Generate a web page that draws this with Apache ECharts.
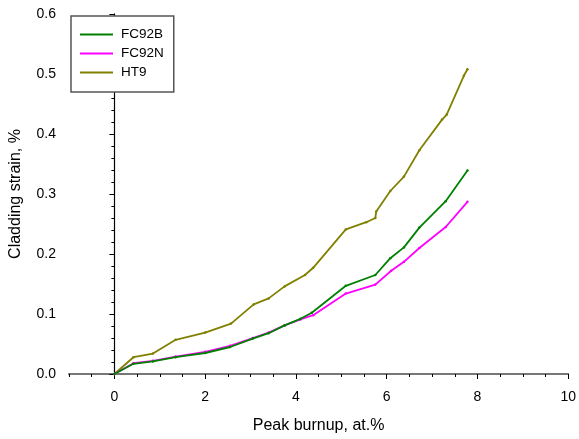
<!DOCTYPE html>
<html>
<head>
<meta charset="utf-8">
<script src="https://cdn.jsdelivr.net/npm/echarts@6/dist/echarts.min.js"></script>
<style>html,body{margin:0;padding:0;background:#fff}#c{width:579px;height:439px}</style>
</head>
<body>
<div id="c"></div>
<script>
var seriesNames = ['FC92B', 'FC92N', 'HT9'];
var seriesColors = ['#008000', '#ff00ff', '#808000'];
var fc92b = [[0,0],[0.42,0.017],[0.85,0.021],[1.35,0.028],[2.0,0.035],[2.55,0.045],[3.05,0.059],[3.4,0.068],[3.75,0.081],[4.1,0.092],[4.35,0.102],[5.1,0.147],[5.75,0.165],[6.08,0.193],[6.38,0.211],[6.72,0.244],[7.3,0.288],[7.78,0.339]];
var fc92n = [[0,0],[0.42,0.018],[0.85,0.022],[1.35,0.029],[2.0,0.037],[2.55,0.047],[3.05,0.06],[3.4,0.069],[3.75,0.081],[4.1,0.091],[4.38,0.098],[5.1,0.134],[5.75,0.149],[6.1,0.172],[6.38,0.187],[6.72,0.21],[7.3,0.245],[7.78,0.287]];
var ht9 = [[0,0],[0.42,0.028],[0.85,0.034],[1.35,0.057],[2.0,0.069],[2.57,0.084],[3.07,0.116],[3.4,0.126],[3.75,0.146],[4.2,0.165],[4.38,0.177],[5.1,0.241],[5.55,0.253],[5.75,0.26],[5.77,0.271],[6.08,0.305],[6.38,0.329],[6.72,0.373],[7.22,0.424],[7.32,0.432],[7.7,0.497],[7.78,0.508]];
var seriesData = [fc92b, fc92n, ht9];
var xTickLabels = [0, 2, 4, 6, 8, 10];
var xName = 'Peak burnup, at.%';
var yName = 'Cladding strain, %';
var font = 'Arial, "Liberation Sans", sans-serif';

var chart = echarts.init(document.getElementById('c'));
chart.setOption({
  animation: false,
  grid: {left: 67, right: 9, top: 14, bottom: 62},
  legend: {
    orient: 'vertical', left: 71, top: 16,
    data: seriesNames,
    icon: 'rect', itemWidth: 33, itemHeight: 2, itemGap: 4,
    borderColor: '#555', borderWidth: 1.5, borderRadius: 0,
    backgroundColor: '#fff',
    padding: [11, 10, 12, 9],
    textStyle: {fontFamily: font, fontSize: 13.5, color: '#000', padding: [0,0,0,3], lineHeight: 15}
  },
  xAxis: [{
    type: 'value', min: -1, max: 10,
    name: xName, nameLocation: 'middle', nameGap: 44,
    nameTextStyle: {fontFamily: font, fontSize: 16, color: '#000'},
    axisLine: {lineStyle: {color: '#000', width: 1}},
    axisTick: {show: true, length: 5, customValues: xTickLabels, lineStyle: {color: '#000'}},
    splitLine: {show: false},
    axisLabel: {fontFamily: font, fontSize: 14, color: '#000', margin: 16, customValues: xTickLabels}
  }, {
    type: 'value', min: -1, max: 10, position: 'top',
    axisLine: {show: true, lineStyle: {color: '#777', width: 2}},
    axisTick: {show: false}, axisLabel: {show: false}, splitLine: {show: false}
  }, {
    type: 'value', min: -1, max: 10, interval: 0.5, position: 'bottom',
    axisLine: {show: false},
    axisTick: {show: true, length: 3, lineStyle: {color: '#000'}},
    axisLabel: {show: false}, splitLine: {show: false}
  }],
  yAxis: [{
    type: 'value', min: 0, max: 0.6, interval: 0.1,
    name: yName, nameLocation: 'middle', nameGap: 45,
    nameTextStyle: {fontFamily: font, fontSize: 16, color: '#000'},
    axisLine: {show: true, lineStyle: {color: '#000', width: 1}},
    axisTick: {show: true, length: 5, lineStyle: {color: '#000'}},
    minorTick: {show: true, splitNumber: 5, length: 3, lineStyle: {color: '#000'}},
    splitLine: {show: false},
    axisLabel: {fontFamily: font, fontSize: 14, color: '#000', margin: 13,
      formatter: function(v){ return v.toFixed(1); }}
  }, {
    type: 'value', min: 0, max: 0.6, position: 'right',
    axisLine: {show: true, lineStyle: {color: '#000', width: 1.2}},
    axisTick: {show: false}, axisLabel: {show: false}, splitLine: {show: false}
  }],
  series: seriesNames.map(function(n, i){
    return {
      name: n, type: 'line', data: seriesData[i],
      showSymbol: true, symbol: 'circle', symbolSize: 2.5,
      itemStyle: {color: seriesColors[i]},
      lineStyle: {color: seriesColors[i], width: 1.8},
      z: 3 - i
    };
  })
});
</script>
</body>
</html>
